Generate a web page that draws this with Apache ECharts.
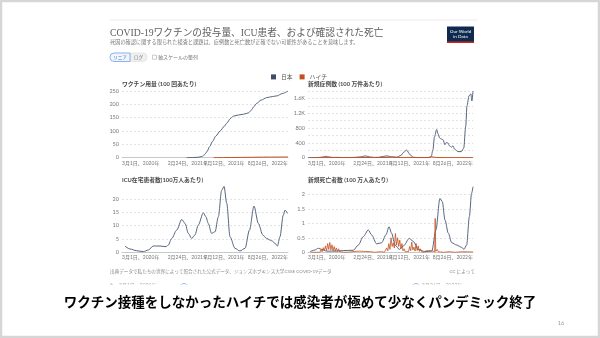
<!DOCTYPE html>
<html>
<head>
<meta charset="utf-8">
<script src="https://cdn.jsdelivr.net/npm/echarts@6/dist/echarts.min.js"></script>
<style>
  html, body { margin: 0; padding: 0; background: #fff; }
  #chart { width: 600px; height: 338px; }
</style>
</head>
<body>
<div id="chart"></div>
<script>
// ---- data -------------------------------------------------------------
const countries = ['日本', 'ハイチ'];
const xStart = '2020-03-01';
const xEnd = '2022-08-26';
const xTickDates = ['2020-03-01', '2021-02-24', '2021-09-12', '2022-08-26'];

const panelTitles = [
  'ワクチン用量 (100 回あたり)',
  '新規症例数 (100 万件あたり)',
  'ICU在宅患者数(100万人あたり)',
  '新規死亡者数 (100 万人あたり)'
];

// COVID-19 vaccine doses per 100 people
const japanVaccine = [
  ['2021-02-17', 0], ['2021-03-20', 0.6], ['2021-04-20', 1.6], ['2021-05-12', 4.5],
  ['2021-05-26', 11], ['2021-06-08', 22], ['2021-06-24', 42], ['2021-07-10', 62],
  ['2021-07-28', 82], ['2021-08-20', 100], ['2021-09-10', 117], ['2021-09-26', 130],
  ['2021-10-14', 146], ['2021-11-01', 156], ['2021-11-28', 160], ['2021-12-26', 163],
  ['2022-01-22', 168], ['2022-02-06', 178], ['2022-02-21', 192], ['2022-03-08', 204],
  ['2022-04-01', 216], ['2022-05-01', 225], ['2022-06-01', 229], ['2022-06-28', 232],
  ['2022-07-24', 240], ['2022-08-26', 250]
];
const haitiVaccine = [
  ['2021-07-15', 0], ['2021-09-15', 0.4], ['2021-11-15', 0.9], ['2022-01-15', 1.4],
  ['2022-03-15', 1.9], ['2022-05-15', 2.3], ['2022-08-26', 2.7]
];

// New confirmed cases per million
const japanCases = [
  ['2020-03-01', 0.5], ['2020-03-25', 1.5], ['2020-04-12', 4], ['2020-05-01', 2.5],
  ['2020-05-20', 0.4], ['2020-06-20', 0.5], ['2020-07-10', 3], ['2020-08-05', 9],
  ['2020-09-05', 4.5], ['2020-10-10', 3.8], ['2020-11-10', 8], ['2020-12-05', 18],
  ['2020-12-25', 30], ['2021-01-10', 50], ['2021-02-01', 22], ['2021-03-01', 8],
  ['2021-03-25', 12], ['2021-04-20', 35], ['2021-05-10', 50], ['2021-06-05', 20],
  ['2021-07-01', 12], ['2021-07-25', 60], ['2021-08-10', 150], ['2021-08-26', 205],
  ['2021-09-12', 90], ['2021-09-30', 12], ['2021-10-30', 2], ['2021-12-01', 1],
  ['2021-12-28', 4], ['2022-01-08', 30], ['2022-01-17', 200], ['2022-01-26', 560],
  ['2022-02-07', 760], ['2022-02-15', 640], ['2022-02-24', 530], ['2022-03-06', 500],
  ['2022-03-15', 480], ['2022-03-24', 350], ['2022-04-01', 410], ['2022-04-10', 395],
  ['2022-04-19', 320], ['2022-04-29', 285], ['2022-05-08', 320], ['2022-05-17', 230],
  ['2022-06-04', 164], ['2022-06-23', 164], ['2022-07-06', 257], ['2022-07-17', 850],
  ['2022-07-24', 1400], ['2022-08-04', 1670], ['2022-08-14', 1720], ['2022-08-20', 1530],
  ['2022-08-26', 1800]
];
const haitiCases = [
  ['2020-03-20', 0], ['2020-04-20', 2], ['2020-05-20', 18], ['2020-06-08', 38],
  ['2020-06-25', 20], ['2020-07-20', 5], ['2020-09-01', 2], ['2020-12-01', 3],
  ['2021-01-15', 6], ['2021-03-01', 1], ['2021-05-15', 8], ['2021-06-10', 16],
  ['2021-07-05', 8], ['2021-08-10', 3], ['2021-09-10', 8], ['2021-10-15', 4],
  ['2021-12-20', 3], ['2022-01-10', 25], ['2022-01-25', 12], ['2022-02-20', 3],
  ['2022-05-01', 1], ['2022-08-26', 1]
];

// ICU patients per million
const japanIcu = [
  ['2020-03-17', 2.35], ['2020-04-14', 1.23], ['2020-05-20', 0.6], ['2020-06-26', 0.24],
  ['2020-07-23', 0.86], ['2020-08-19', 2.35], ['2020-09-25', 2.35], ['2020-10-28', 2.1],
  ['2020-11-09', 2.7], ['2020-11-28', 5.2], ['2020-12-25', 8.3], ['2021-01-22', 12.3],
  ['2021-02-09', 10.8], ['2021-02-27', 7.1], ['2021-03-17', 5.2], ['2021-04-04', 6.5],
  ['2021-04-22', 10.2], ['2021-05-20', 14.8], ['2021-06-03', 13.3], ['2021-06-16', 10.8],
  ['2021-07-04', 7.1], ['2021-07-23', 7.7], ['2021-08-10', 13.3], ['2021-08-28', 23.2],
  ['2021-09-10', 24.7], ['2021-09-25', 18.3], ['2021-10-13', 5.8], ['2021-11-09', 1.5],
  ['2021-12-06', 0.5], ['2022-01-03', 1.5], ['2022-01-27', 8.3], ['2022-02-21', 17.3],
  ['2022-03-17', 10.8], ['2022-04-10', 6.5], ['2022-05-01', 5.2], ['2022-05-29', 4.3],
  ['2022-06-16', 3.4], ['2022-06-29', 2.35], ['2022-07-13', 5.8], ['2022-07-31', 13.9],
  ['2022-08-10', 15.8], ['2022-08-23', 14.6]
];

// New confirmed deaths per million
const japanDeaths = [
  ['2020-03-12', 0.02], ['2020-04-08', 0.08], ['2020-04-27', 0.14], ['2020-05-15', 0.1],
  ['2020-06-12', 0.04], ['2020-08-06', 0.04], ['2020-09-11', 0.06], ['2020-11-05', 0.07],
  ['2020-12-03', 0.25], ['2020-12-30', 0.54], ['2021-01-27', 0.77], ['2021-02-14', 0.6],
  ['2021-03-14', 0.29], ['2021-04-10', 0.33], ['2021-05-04', 0.6], ['2021-05-21', 0.88],
  ['2021-06-04', 0.66], ['2021-06-23', 0.25], ['2021-07-17', 0.1], ['2021-08-08', 0.22],
  ['2021-09-10', 0.48], ['2021-10-02', 0.37], ['2021-10-29', 0.1], ['2021-12-05', 0.02],
  ['2022-01-11', 0.04], ['2022-02-03', 0.77], ['2022-02-25', 1.86], ['2022-03-10', 1.75],
  ['2022-03-25', 1.11], ['2022-04-12', 0.66], ['2022-05-01', 0.33], ['2022-05-28', 0.25],
  ['2022-06-25', 0.17], ['2022-07-07', 0.1], ['2022-07-22', 0.25], ['2022-08-06', 1.23],
  ['2022-08-18', 2.03], ['2022-08-26', 2.26]
];
const haitiDeaths = [
  ['2020-03-20', 0], ['2020-05-06', 0], ['2020-05-12', 0.1], ['2020-05-18', 0.02],
  ['2020-05-24', 0.16], ['2020-05-30', 0.05], ['2020-06-05', 0.22], ['2020-06-11', 0.06],
  ['2020-06-17', 0.3], ['2020-06-23', 0.1], ['2020-06-29', 0.34], ['2020-07-05', 0.08],
  ['2020-07-11', 0.26], ['2020-07-17', 0.05], ['2020-07-23', 0.2], ['2020-07-29', 0.04],
  ['2020-08-04', 0.15], ['2020-08-10', 0.03], ['2020-08-16', 0.12], ['2020-08-22', 0.02],
  ['2020-08-28', 0.08], ['2020-09-03', 0.01], ['2020-09-09', 0.06], ['2020-09-15', 0],
  ['2020-09-21', 0.04], ['2020-09-30', 0], ['2020-10-20', 0.01], ['2020-11-10', 0.03],
  ['2020-11-20', 0], ['2020-12-10', 0.04], ['2020-12-20', 0], ['2021-01-10', 0.03],
  ['2021-01-20', 0], ['2021-02-10', 0.02], ['2021-03-01', 0], ['2021-04-10', 0.02],
  ['2021-04-25', 0], ['2021-05-02', 0.03], ['2021-05-08', 0.15], ['2021-05-14', 0.05],
  ['2021-05-20', 0.3], ['2021-05-26', 0.1], ['2021-06-01', 0.5], ['2021-06-07', 0.2],
  ['2021-06-13', 0.32], ['2021-06-19', 0.15], ['2021-06-25', 0.65], ['2021-07-01', 0.25],
  ['2021-07-07', 0.5], ['2021-07-13', 0.2], ['2021-07-19', 0.42], ['2021-07-25', 0.12],
  ['2021-07-31', 0.3], ['2021-08-06', 0.05], ['2021-08-12', 0.12], ['2021-08-18', 0.02],
  ['2021-09-05', 0.02], ['2021-09-11', 0.2], ['2021-09-17', 0.05], ['2021-09-23', 0.35],
  ['2021-09-29', 0.08], ['2021-10-05', 0.18], ['2021-10-11', 0.04], ['2021-10-17', 0.3],
  ['2021-10-23', 0.06], ['2021-10-29', 0.22], ['2021-11-04', 0.03], ['2021-11-10', 0.12],
  ['2021-11-16', 0.02], ['2021-11-22', 0.08], ['2021-11-28', 0], ['2021-12-10', 0.05],
  ['2021-12-20', 0.01], ['2022-01-05', 0.06], ['2022-01-15', 0.02], ['2022-01-27', 0.02],
  ['2022-01-30', 1.17], ['2022-02-02', 0.03], ['2022-02-10', 0.1], ['2022-02-16', 0.02],
  ['2022-02-22', 0.08], ['2022-03-01', 0.01], ['2022-03-10', 0.06], ['2022-03-20', 0],
  ['2022-04-15', 0.02], ['2022-05-20', 0], ['2022-06-30', 0.02], ['2022-08-26', 0.01]
];

// ---- helpers ------------------------------------------------------------
const FONT = "Lato, 'Noto Sans CJK JP', sans-serif";
const JAPAN = '#56667f';
const JAPAN_KEY = '#3d4d68';
const HAITI = '#c4501f';

// dates are placed on a numeric (millisecond) axis
const toTime = s => +echarts.time.parse(s);
const toPoints = rows => rows.map(([d, v]) => [toTime(d), v]);

function dateLabel(v) {
  const d = new Date(v);
  return (d.getMonth() + 1) + '月' + d.getDate() + '日、' + d.getFullYear() + '年';
}

const grids = [
  { left: 122, top: 91, width: 166, height: 66.7 },
  { left: 308, top: 91, width: 165, height: 66.7 },
  { left: 122, top: 185.6, width: 166, height: 66.7 },
  { left: 308, top: 185.6, width: 165, height: 66.7 }
].map(g => Object.assign({ containLabel: false, outerBoundsMode: 'none' }, g));

const xAxes = grids.map((g, i) => ({
  type: 'value',
  gridIndex: i,
  min: toTime(xStart),
  max: toTime(xEnd),
  axisLine: { show: true, onZero: false, lineStyle: { color: '#c8c8c8', width: 1 } },
  axisTick: { show: false },
  splitLine: { show: false },
  axisLabel: {
    customValues: xTickDates.map(toTime),
    formatter: dateLabel,
    fontSize: 5,
    color: '#777',
    fontFamily: FONT,
    margin: 3,
    alignMinLabel: 'left',
    alignMaxLabel: 'right',
    hideOverlap: false
  }
}));

const yBase = {
  type: 'value',
  min: 0,
  axisLine: { show: false },
  axisTick: { show: false },
  axisLabel: { fontSize: 5.5, color: '#777', fontFamily: FONT, margin: 3 }
};
const gridLine = { color: '#dcdcdc', type: [2, 2], width: 0.8 };
const yAxes = [
  { gridIndex: 0, max: 250, interval: 50, extraLabel: {}, extraSplit: {} },
  { gridIndex: 1, max: 1800, interval: 200,
    extraLabel: { formatter: v => (v % 400 !== 0 ? '' : (v >= 1000 ? (v / 1000) + 'K' : String(v))) },
    extraSplit: {} },
  { gridIndex: 2, max: 25, interval: 5, extraLabel: { showMaxLabel: false }, extraSplit: { showMaxLine: false } },
  { gridIndex: 3, max: 2.3, interval: 0.5, extraLabel: { showMaxLabel: false }, extraSplit: { showMaxLine: false } }
].map(a => Object.assign({}, yBase, {
  gridIndex: a.gridIndex, max: a.max, interval: a.interval,
  axisLabel: Object.assign({}, yBase.axisLabel, a.extraLabel),
  splitLine: Object.assign({ show: true, lineStyle: gridLine }, a.extraSplit)
}));

function line(name, idx, rows, color, smooth, width) {
  return {
    type: 'line', name, xAxisIndex: idx, yAxisIndex: idx, data: toPoints(rows),
    showSymbol: false, smooth: smooth ? 0.3 : false, smoothMonotone: 'x',
    lineStyle: { color, width: width || 1 },
    itemStyle: { color: name === '日本' ? JAPAN_KEY : HAITI },
    emphasis: { disabled: true }, silent: true
  };
}

const series = [
  line('日本', 0, japanVaccine, JAPAN, true),
  line('ハイチ', 0, haitiVaccine, HAITI, true),
  line('日本', 1, japanCases, JAPAN, true),
  line('ハイチ', 1, haitiCases, HAITI, true),
  line('日本', 2, japanIcu, JAPAN, true),
  line('日本', 3, japanDeaths, JAPAN, true),
  line('ハイチ', 3, haitiDeaths, HAITI, false, 0.8)
];

const titlePos = [[122, 84], [308, 84], [122, 180], [308, 180]];

const txt = (x, y, text, style, z) => ({
  type: 'text', x, y, silent: true, z: z || 1,
  style: Object.assign({ text, fontFamily: FONT, verticalAlign: 'middle' }, style)
});

const graphic = [
  // slide frame
  { type: 'rect', shape: { x: 1, y: 1, width: 598, height: 336 },
    style: { fill: 'none', stroke: '#d6d6d6', lineWidth: 2.5 }, silent: true },
  // chart frame top rule
  { type: 'line', shape: { x1: 110, y1: 20, x2: 478, y2: 20 },
    style: { stroke: '#ececec', lineWidth: 1 }, silent: true },
  // heading
  txt(110, 33, 'COVID-19ワクチンの投与量、ICU患者、および確認された死亡',
    { fontSize: 9.7, fill: '#606060', fontFamily: "'Liberation Serif', 'Noto Sans CJK JP', serif" }),
  txt(110, 42.5, '死因の確認に関する限られた検査と課題は、症例数と死亡数が正確でない可能性があることを意味します。',
    { fontSize: 5.2, fill: '#777' }),
  // logo
  { type: 'rect', shape: { x: 447, y: 26.5, width: 27, height: 16.5 }, style: { fill: '#0f2a4f' }, silent: true },
  { type: 'rect', shape: { x: 447, y: 41.5, width: 27, height: 1.5 }, style: { fill: '#ce261e' }, silent: true },
  txt(460.5, 31.5, 'Our World', { fontSize: 4.6, fill: '#fff', align: 'center' }),
  txt(460.5, 36.5, 'in Data', { fontSize: 4.6, fill: '#fff', align: 'center' }),
  // scale toggle
  { type: 'rect', shape: { x: 130, y: 53, width: 17, height: 8.5, r: [0, 4, 4, 0] },
    style: { fill: '#efefef', stroke: '#dddddd', lineWidth: 0.6 }, silent: true },
  { type: 'rect', shape: { x: 110, y: 53, width: 20, height: 8.5, r: [4, 0, 0, 4] },
    style: { fill: '#f1f6fe', stroke: '#6f9fe3', lineWidth: 0.8 }, silent: true },
  txt(120, 57.4, 'リニア', { fontSize: 4.6, fill: '#3f6fc0', align: 'center' }),
  txt(138.5, 57.4, 'ログ', { fontSize: 4.6, fill: '#777', align: 'center' }),
  { type: 'rect', shape: { x: 152.5, y: 55.2, width: 4, height: 4 },
    style: { fill: '#fff', stroke: '#aaa', lineWidth: 0.6 }, silent: true },
  txt(158, 57.4, '軸スケールの整列', { fontSize: 5, fill: '#777' }),
  // footer
  txt(110, 271.5, '出典データで私たちの世界によって照合された公式データ、ジョンズホプキンス大学CSSE COVID-19データ',
    { fontSize: 4.6, fill: '#888' }),
  txt(475, 271.5, 'CC によって', { fontSize: 4.6, fill: '#888', align: 'right' }),
  // timeline strip, cut off at the bottom edge of the chart
  txt(110, 285, '▶', { fontSize: 5, fill: '#8a8a8a' }),
  txt(119, 285.5, '3月1日、2020年', { fontSize: 5, fill: '#aaa' }),
  { type: 'circle', shape: { cx: 184, cy: 287, r: 3.5 }, style: { fill: '#fff', stroke: '#6f9fe3', lineWidth: 0.8 }, silent: true },
  { type: 'circle', shape: { cx: 416, cy: 287, r: 3.5 }, style: { fill: '#fff', stroke: '#6f9fe3', lineWidth: 0.8 }, silent: true },
  txt(422, 285.5, '8月26日、2022年', { fontSize: 5, fill: '#aaa' }),
  { type: 'rect', shape: { x: 60, y: 284.5, width: 480, height: 10 }, style: { fill: '#fff' }, silent: true, z: 10 },
  // slide caption and page number
  txt(300, 302, 'ワクチン接種をしなかったハイチでは感染者が極めて少なくパンデミック終了',
    { fontSize: 13.5, fontWeight: 'bold', fill: '#000', align: 'center',
      fontFamily: "'Noto Sans CJK JP', sans-serif" }, 11),
  txt(561, 323, '16', { fontSize: 5.5, fill: '#999', align: 'center' })
].concat(panelTitles.map((t, i) =>
  txt(titlePos[i][0], titlePos[i][1], t, { fontSize: 5.8, fontWeight: 'bold', fill: '#4a4a4a' })
));

const chart = echarts.init(document.getElementById('chart'), null, { renderer: 'canvas' });
chart.setOption({
  animation: false,
  backgroundColor: '#fff',
  textStyle: { fontFamily: FONT },
  legend: {
    data: countries,
    left: 266, top: 69,
    icon: 'rect', itemWidth: 5, itemHeight: 5, itemGap: 7,
    textStyle: { fontSize: 5.8, color: '#555', fontFamily: FONT },
    selectedMode: false
  },
  grid: grids,
  xAxis: xAxes,
  yAxis: yAxes,
  series,
  graphic: { elements: graphic }
});
</script>
</body>
</html>
